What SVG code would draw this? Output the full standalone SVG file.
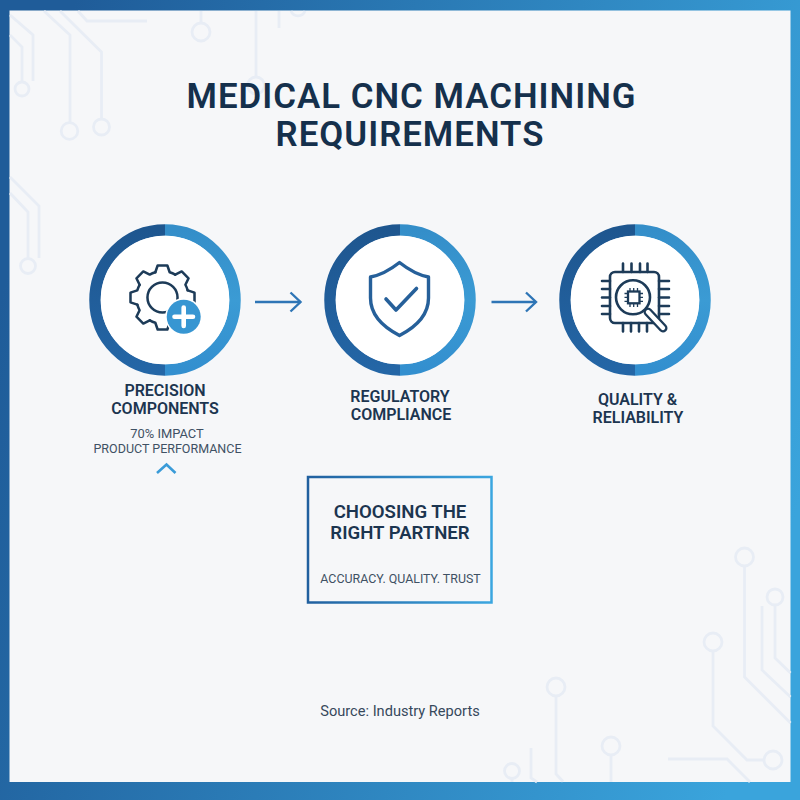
<svg xmlns="http://www.w3.org/2000/svg" xmlns:xlink="http://www.w3.org/1999/xlink" width="800" height="800" viewBox="0 0 800 800">
<style>
text{font-family:"Roboto","Liberation Sans",sans-serif;text-anchor:middle}
.title{font-size:34.8px;font-weight:600;fill:#15304c;letter-spacing:1px}
.label{font-size:16px;font-weight:600;fill:#1c3550}
.sub{font-size:12.5px;font-weight:400;fill:#3f5164}
.box{font-size:18.6px;font-weight:600;fill:#1c3550}
.src{font-size:14.6px;font-weight:400;fill:#37495c}
.trace{fill:none;stroke:#e8edf5;stroke-width:2.8}
.dl{fill:none;stroke:url(#ringL);stroke-width:11.5}
.dr{fill:none;stroke:url(#ringR);stroke-width:11.5}
.disc{fill:#fff}
.ink{fill:none;stroke:#1d3b58;stroke-width:2.6;stroke-linecap:round;stroke-linejoin:round}
.arrow{fill:none;stroke:#2e75b6;stroke-width:2.4;marker-end:url(#head)}
</style>
<defs>
<linearGradient id="frame" gradientUnits="userSpaceOnUse" x1="0" y1="300" x2="800" y2="500"><stop offset="0" stop-color="#1f5c99"/><stop offset="1" stop-color="#3aa4dc"/></linearGradient>
<linearGradient id="ringL" x1="0" y1="0" x2="0" y2="1"><stop offset="0" stop-color="#1e568f"/><stop offset="1" stop-color="#2466a6"/></linearGradient>
<linearGradient id="ringR" x1="0" y1="0" x2="0" y2="1"><stop offset="0" stop-color="#348ec9"/><stop offset="0.5" stop-color="#3b9bd4"/><stop offset="1" stop-color="#338fcf"/></linearGradient>
<linearGradient id="boxStroke" x1="0" y1="0" x2="1" y2="0"><stop offset="0" stop-color="#21609f"/><stop offset="1" stop-color="#3ba6e0"/></linearGradient>
<marker id="head" markerUnits="userSpaceOnUse" markerWidth="16" markerHeight="24" refX="12" refY="12" orient="auto"><path d="M2 2.500 L12 12 L2 21.500" fill="none" stroke="#2e75b6" stroke-width="2.400"/></marker>
<path id="tooth" d="M-7.400-26 L-5-33 L5-33 L7.400-26 A27 27 0 0 1 13.100-23.600"/>
<g id="ring"><path class="dl" d="M0-70 A70 70 0 0 0 0 70"/><path class="dr" d="M0-70 A70 70 0 0 1 0 70"/><circle class="disc" r="64.300"/></g>
</defs>

<rect width="800" height="800" fill="url(#frame)"/>
<rect x="9.500" y="10.500" width="781" height="771.500" fill="#f6f7f9"/>

<g id="circuit-traces" class="trace">
<path d="M44 11 L70 35 V123"/><circle cx="69.500" cy="131" r="8.300"/>
<path d="M60 11 L101.500 52 V118"/><circle cx="101.500" cy="127" r="8"/>
<path d="M78 11 L87 21 H147"/>
<path d="M10 15 L33 35 V81"/>
<path d="M10 35 L22 47 V81"/><circle cx="22" cy="89" r="7"/>
<path d="M201 11 V23"/><circle cx="201" cy="32" r="9"/>
<path d="M256 11 V77"/><circle cx="256" cy="85.500" r="8.500"/>
<path d="M279 11 V28"/><path d="M291 11 A7.500 7.500 0 0 0 305 11"/>
<path d="M10 177 L39 206 V258"/>
<path d="M10 193 L28 212 V258"/><circle cx="28" cy="266" r="7.500"/>
<circle cx="744.500" cy="557" r="9"/><path d="M744.500 566 V677 L790.500 723"/>
<circle cx="775" cy="597" r="8"/><path d="M775 605 V658 L790.500 673"/>
<path d="M762 606 V670 L790.500 697"/>
<circle cx="713" cy="642" r="9"/><path d="M713 651 V726 L747 760 H764"/><circle cx="773" cy="760" r="9"/>
<path d="M668 759 H727 L750 782"/>
<circle cx="556" cy="687" r="9"/><path d="M556 696 V774 L563 781.500"/>
<circle cx="611" cy="746" r="9"/><path d="M611 755 V782"/>
<circle cx="512" cy="771" r="7.500"/><path d="M512 778 V782"/>
<path d="M531 748 V778 L537 782"/>
</g>

<g id="title">
<text class="title" x="411.500" y="108">MEDICAL CNC MACHINING</text>
<text class="title" x="410" y="146">REQUIREMENTS</text>
</g>

<g id="connectors">
<path class="arrow" d="M255 302 H300.500"/>
<path class="arrow" d="M491.500 302 H536"/>
</g>

<g id="node-precision">
<use href="#ring" x="165" y="300"/>
<g class="ink" transform="translate(162.500 297.500) scale(.97)">
<use href="#tooth"/><use href="#tooth" transform="rotate(45)"/><use href="#tooth" transform="rotate(90)"/><use href="#tooth" transform="rotate(135)"/><use href="#tooth" transform="rotate(180)"/><use href="#tooth" transform="rotate(225)"/><use href="#tooth" transform="rotate(270)"/><use href="#tooth" transform="rotate(315)"/>
<circle r="15.500"/>
</g>
<circle cx="183.700" cy="316.700" r="18.500" fill="#fff"/>
<circle cx="183.700" cy="316.700" r="17" fill="#3796d2"/>
<path d="M183.700 307.500 V326 M174.500 316.700 H193" fill="none" stroke="#fff" stroke-width="4.600" stroke-linecap="round"/>
<text class="label" x="165" y="396">PRECISION</text>
<text class="label" x="165" y="414">COMPONENTS</text>
<text class="sub" x="167" y="438" style="font-size:12.900px">70% IMPACT</text>
<text class="sub" x="167.500" y="453">PRODUCT PERFORMANCE</text>
<path d="M157 473 L166.500 464.500 L175.500 473" fill="none" stroke="#3a9bd8" stroke-width="2.600"/>
</g>

<g id="node-regulatory">
<use href="#ring" x="400" y="300"/>
<path d="M399.500 262.500 C390 270 381 275 370.500 277 V298 C370.500 316 385 328 399.500 335.500 C414 328 428.500 316 428.500 298 V277 C418 275 409 270 399.500 262.500Z" fill="none" stroke="#26609a" stroke-width="3.400" stroke-linejoin="round"/>
<path d="M386 299 L396 310 L416.500 288.500" fill="none" stroke="#26609a" stroke-width="3.600" stroke-linecap="round" stroke-linejoin="round"/>
<text class="label" x="400" y="402">REGULATORY</text>
<text class="label" x="401" y="420">COMPLIANCE</text>
</g>

<g id="node-quality">
<use href="#ring" x="635" y="300"/>
<rect class="ink" x="610" y="272" width="49" height="51" rx="5"/>
<path class="ink" d="M623 263.500 V272 M631.500 263.500 V272 M640 263.500 V272 M647.500 263.500 V272 M623 323 V331.500 M631 323 V331.500 M639 323 V331.500 M647 323 V331.500 M602 281 H610 M602 289 H610 M602 297.500 H610 M602 306 H610 M602 314 H610 M659 281 H669 M659 289 H669 M659 297.500 H669 M659 306 H669 M659 314 H669"/>
<path d="M648 312 L663 328" fill="none" stroke="#1d3b58" stroke-width="9" stroke-linecap="round"/>
<path d="M648 312 L663 328" fill="none" stroke="#fff" stroke-width="4.400" stroke-linecap="round"/>
<circle class="ink" cx="633" cy="297.300" r="17" style="fill:#fff"/>
<rect x="628" y="291.500" width="11.500" height="11.800" fill="none" stroke="#1d3b58" stroke-width="2.300"/>
<path d="M630 288 V291 M633.700 288 V291 M637.500 288 V291 M630 304 V307 M633.700 304 V307 M637.500 304 V307 M624.500 293.500 H627.500 M624.500 297.400 H627.500 M624.500 301.300 H627.500 M640 293.500 H643 M640 297.400 H643 M640 301.300 H643" fill="none" stroke="#1d3b58" stroke-width="1.300"/>
<text class="label" x="637.500" y="405">QUALITY &amp;</text>
<text class="label" x="638" y="423">RELIABILITY</text>
</g>

<g id="node-partner">
<rect x="308" y="477" width="183.500" height="125.500" fill="#f6f7f9" stroke="url(#boxStroke)" stroke-width="2.500"/>
<text class="box" x="400" y="518">CHOOSING THE</text>
<text class="box" x="400" y="539">RIGHT PARTNER</text>
<text class="sub" x="400.500" y="583" style="font-size:12.400px">ACCURACY. QUALITY. TRUST</text>
</g>

<text id="source" class="src" x="400" y="715.500">Source: Industry Reports</text>
</svg>
